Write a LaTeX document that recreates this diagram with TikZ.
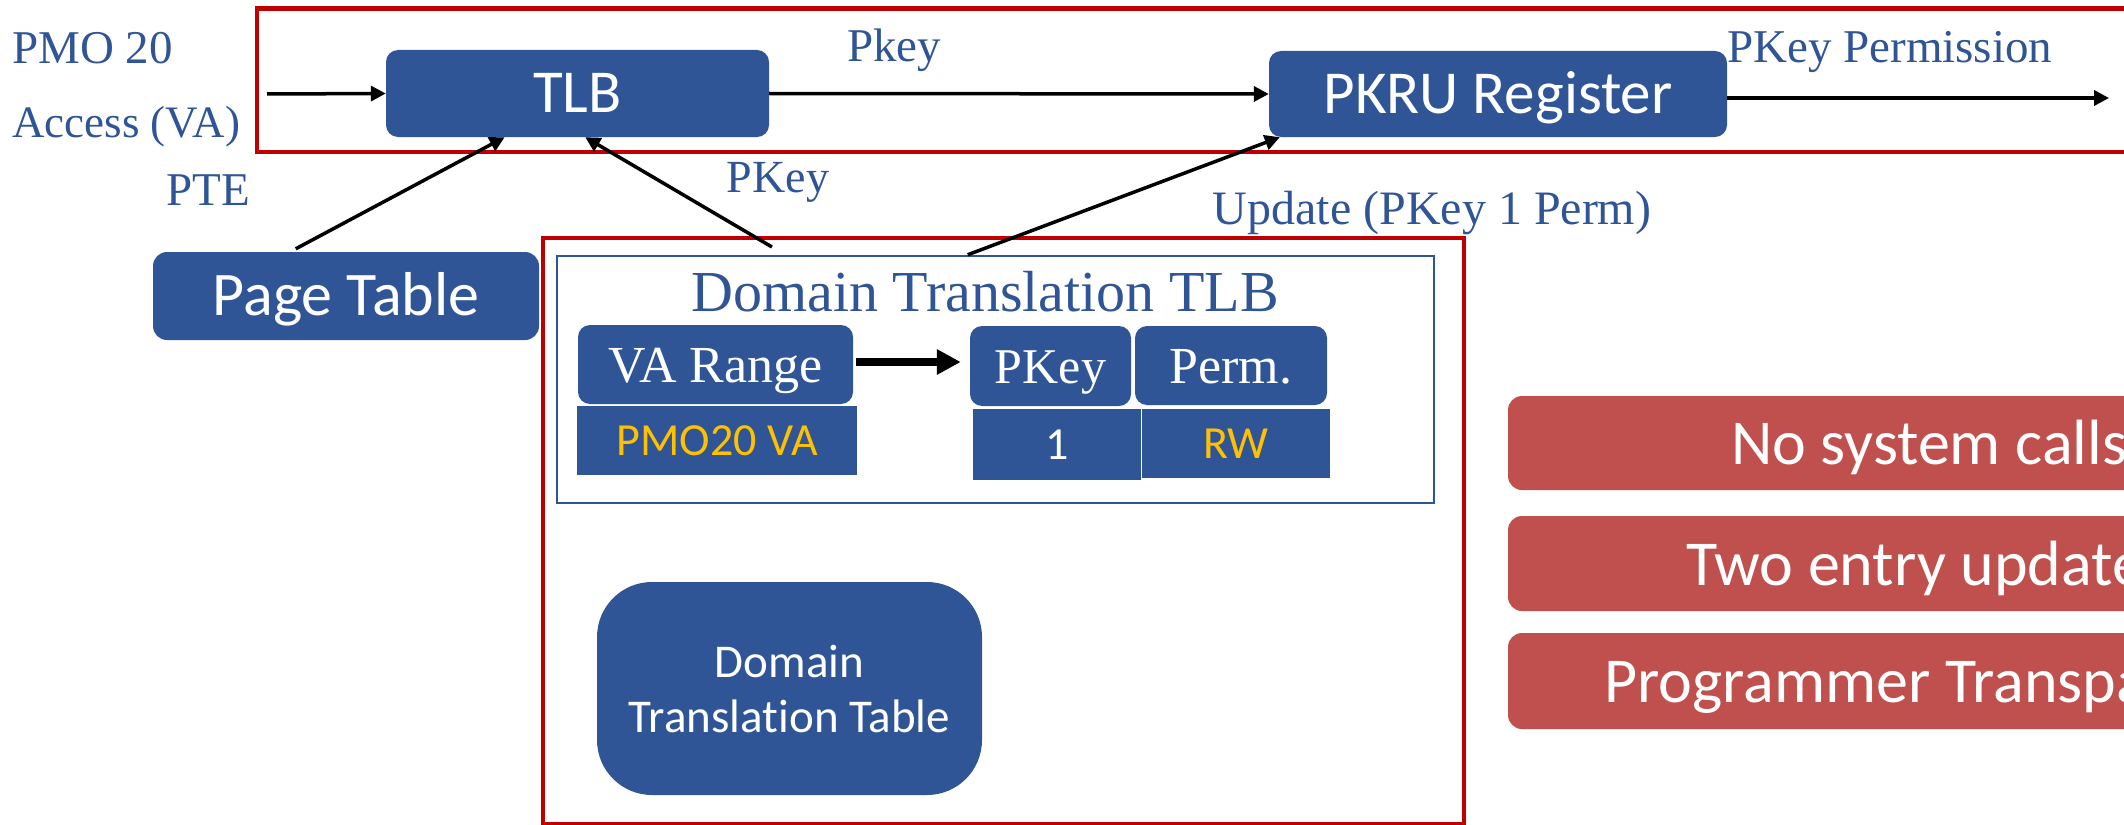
\documentclass[tikz,border=0pt]{standalone}
\usepackage{fontspec}
\setmainfont{Liberation Serif}
\newfontfamily\calibrifont[Ligatures=NoCommon]{Carlito}
\usetikzlibrary{arrows.meta,calc}
\definecolor{boxblue}{HTML}{2F5597}
\definecolor{labelblue}{HTML}{2F5597}
\definecolor{framered}{HTML}{C00000}
\definecolor{notered}{HTML}{C0504D}
\definecolor{valyellow}{HTML}{FFC000}
\tikzset{
  bluebox/.style={fill=boxblue, draw=none, inner sep=0pt, text=white},
  roundbox/.style={bluebox, rounded corners=12pt},
  bigsans/.style={font=\calibrifont\fontsize{61}{70}\selectfont, text height=39pt, text depth=0pt},
  cellsans/.style={font=\calibrifont\fontsize{46}{52}\selectfont, text height=30pt, text depth=0pt},
  cellserif/.style={font=\fontsize{52}{60}\selectfont, text height=35pt, text depth=0pt},
  lbl/.style={text=labelblue, inner sep=0pt, font=\fontsize{47}{52}\selectfont, anchor=base},
  redframe/.style={draw=framered, line width=4.5pt, inner sep=0pt},
  arr/.style={line width=3.5pt, -{Triangle[length=15pt,width=15pt]}},
  notebox/.style={fill=notered, draw=none, rounded corners=14pt, inner sep=0pt, minimum width=892pt},
  notetext/.style={text=white, inner sep=0pt, anchor=base west, font=\calibrifont\fontsize{64}{70}\selectfont},
}
\begin{document}
\begin{tikzpicture}[x=1pt, y=-1pt]
\useasboundingbox (0,0) rectangle (2124,824);
\clip (0,0) rectangle (2124,824);

% frames
\node[redframe, minimum width=1883pt, minimum height=143.5pt] (pathframe) at (1198.5,80.25) {};
\node[redframe, minimum width=921pt, minimum height=586pt] (domframe) at (1003.5,531) {};
\node[draw=boxblue, line width=2.5pt, inner sep=0pt, minimum width=877pt, minimum height=247pt] (dtlb) at (995.5,379.5) {};

% main path
\node[roundbox, bigsans, minimum width=383pt, minimum height=87pt] (tlb) at (577.5,93.5) {TLB};
\node[roundbox, bigsans, minimum width=458pt, minimum height=86pt] (pkru) at (1498,94) {PKRU Register};
\node[roundbox, bigsans, font=\calibrifont\fontsize{62}{70}\selectfont, rounded corners=14pt, minimum width=386pt, minimum height=88pt] (pt) at (346,296) {Page Table};

% domain translation TLB contents
\node[text=labelblue, inner sep=0pt, anchor=base, font=\fontsize{58}{64}\selectfont] (dtlbtitle) at (985,311) {Domain Translation TLB};
\node[roundbox, cellserif, minimum width=275pt, minimum height=79pt] (varange) at (715.5,364.5) {VA Range};
\node[bluebox, cellsans, text=valyellow, minimum width=280pt, minimum height=69pt] (vaval) at (717,440.5) {PMO20 VA};
\node[roundbox, cellserif, font=\fontsize{50}{60}\selectfont, minimum width=161pt, minimum height=80pt] (pkeyhead) at (1050.5,366) {PKey};
\node[roundbox, cellserif, minimum width=192pt, minimum height=79pt] (permhead) at (1231,365.5) {Perm.};
\node[bluebox, cellsans, minimum width=168pt, minimum height=71pt] (pkeyval) at (1057,444.5) {1};
\node[bluebox, cellsans, text=valyellow, minimum width=188pt, minimum height=69pt] (permval) at (1236,443.5) {RW};
\node[bluebox, rounded corners=55pt, align=center, font=\calibrifont\fontsize{47}{55}\selectfont, minimum width=385pt, minimum height=213pt] (dtt) at (789.5,688.5) {Domain\\Translation Table};

% labels
\node[lbl, anchor=base west] (pmo) at (12,64) {PMO 20};
\node[lbl, anchor=base west, font=\fontsize{45}{50}\selectfont] (access) at (12,138) {Access (VA)};
\node[lbl] (pkeylbl) at (894,62) {Pkey};
\node[lbl, anchor=base west] (permlbl) at (1727,63) {PKey Permission};
\node[lbl] (ptelbl) at (208,205) {PTE};
\node[lbl, font=\fontsize{46}{50}\selectfont] (pkeyup) at (778,192) {PKey};
\node[lbl, font=\fontsize{48}{52}\selectfont] (updlbl) at (1432,224) {Update (PKey 1 Perm)};

% properties
\node[notebox, minimum height=94pt] (nosys) at (1954,443) {};
\node[notebox, minimum height=95pt] (twoent) at (1954,563.5) {};
\node[notebox, minimum height=96pt] (progtr) at (1954,681) {};
\node[notetext] (nosystxt) at (1731,464) {No system calls};
\node[notetext] (twoenttxt) at (1686,585) {Two entry update};
\node[notetext] (progtrtxt) at (1604,702) {Programmer Transpa};

% connectors
\coordinate (vain) at (267,94);
\coordinate (permout) at (2109,98);
\coordinate (pkeysrc) at (772,247);
\draw[arr] (vain) -- (tlb.west);
\draw[arr] (tlb.east) -- (pkru.west);
\draw[arr] (pkru.east |- permout) -- (permout);
\draw[arr] ($(pt.north west)!0.37!(pt.north east)+(0,-3)$) -- ($(tlb.south west)!0.31!(tlb.south east)$);
\draw[arr] (pkeysrc) -- ($(tlb.south west)!0.52!(tlb.south east)$);
\draw[arr] ($(dtlb.north west)+(412,0)$) -- ($(pkru.south west)+(11,0)$);
\draw[line width=8pt, -{Triangle[length=24pt,width=24pt]}, shorten <=3pt, shorten >=9pt] (varange.east |- 0,362) -- (pkeyhead.west |- 0,362);
\end{tikzpicture}
\end{document}
